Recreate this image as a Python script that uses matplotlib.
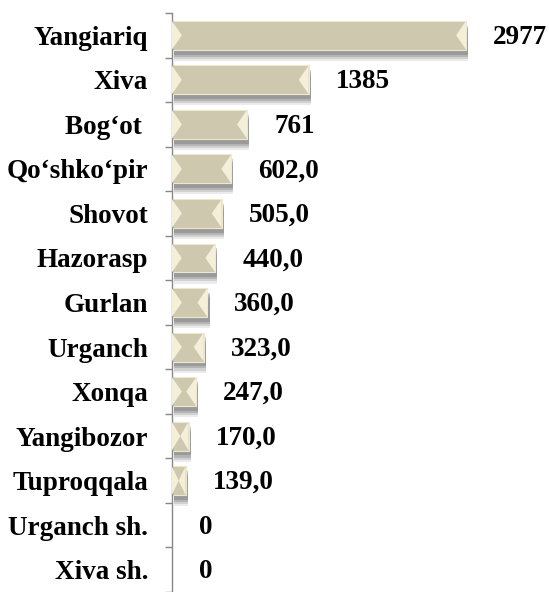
import matplotlib
matplotlib.use("Agg")
import matplotlib.pyplot as plt
import matplotlib.patheffects as pe
import numpy as np

# district names, top to bottom
districts = ["Yangiariq", "Xiva", "Bog‘ot ", "Qo‘shko‘pir", "Shovot", "Hazorasp",
             "Gurlan", "Urganch", "Xonqa", "Yangibozor", "Tuproqqala",
             "Urganch sh.", "Xiva sh."]
values = [2977, 1385, 761, 602, 505, 440, 360, 323, 247, 170, 139, 0, 0]
value_labels = ["2977", "1385", "761", "602,0", "505,0", "440,0", "360,0",
                "323,0", "247,0", "170,0", "139,0", "0", "0"]

plt.rcParams['font.family'] = ['Liberation Serif', 'DejaVu Serif']

fig = plt.figure(figsize=(5.49, 5.92), dpi=100)
ax = fig.add_axes([0.313, 0.0, 0.687, 0.978])

y = np.arange(len(districts))
bar_h = 0.65
xmax = 3816
ax.set_xlim(0, xmax)
ax.set_ylim(len(districts) - 0.5, -0.5)

# fake blurred drop shadow: a few stacked soft layers
shadow = [pe.SimplePatchShadow(offset=(1.5, -o), shadow_rgbFace="#5f5f5f", alpha=a)
          for o, a in [(8, 0.12), (6.5, 0.18), (5, 0.25), (3.5, 0.3)]]

bars = ax.barh(y, values, height=bar_h, color="#CEC8AF", edgecolor="#ECE7CF",
               linewidth=0.8, zorder=2)
for b, v in zip(bars, values):
    if v > 0:
        b.set_path_effects(shadow + [pe.Normal()])

# lighter bevel triangles at both ends of each bar
px_per_unit = ax.get_position().width * fig.get_figwidth() * fig.dpi / xmax
d_units = 10 / px_per_unit
for yi, v in zip(y, values):
    if v <= 0:
        continue
    d = min(d_units, v / 2)
    top, bot = yi - bar_h / 2, yi + bar_h / 2
    ax.fill([0, 0, d], [top, bot, yi], color="#F3EFD9", zorder=3, lw=0)
    ax.fill([v, v, v - d], [top, bot, yi], color="#F3EFD9", zorder=3, lw=0)

# value labels
for yi, v, lab in zip(y, values, value_labels):
    ax.annotate(lab, xy=(v, yi), xytext=(27, -2), textcoords="offset pixels",
                ha="left", va="center", fontsize=19.5, fontweight="bold")

# axis styling
ax.set_yticks(y)
ax.set_yticklabels(districts, fontsize=19.5, fontweight="bold")
ax.tick_params(axis="y", which="major", length=0, pad=17)
ax.set_yticks(np.arange(-0.5, len(districts)), minor=True)
ax.tick_params(axis="y", which="minor", length=5, color="#888888", width=1)
ax.set_xticks([])
for s in ["top", "right", "bottom"]:
    ax.spines[s].set_visible(False)
ax.spines["left"].set_color("#888888")
ax.spines["left"].set_linewidth(1)
ax.patch.set_alpha(0)

fig.savefig("out.png", dpi=100)
